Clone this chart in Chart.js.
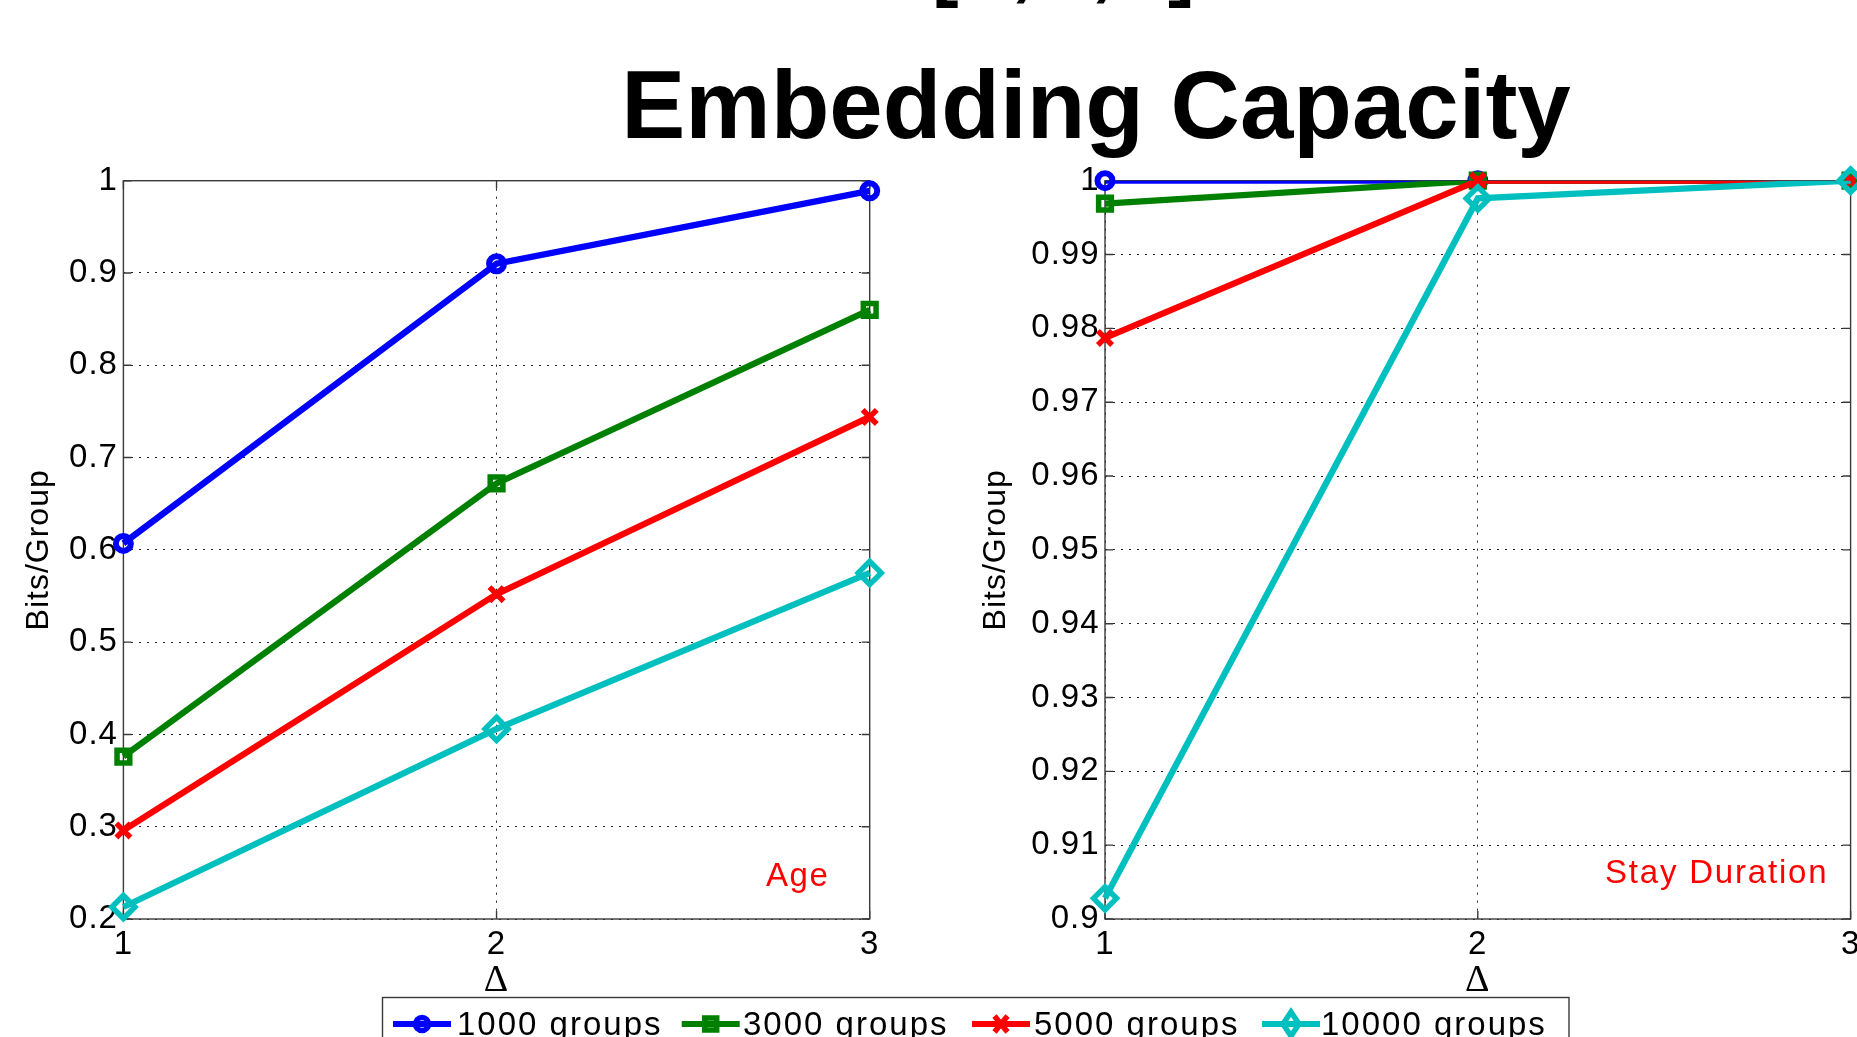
<!DOCTYPE html>
<html>
<head>
<meta charset="utf-8">
<script src="https://cdn.jsdelivr.net/npm/chart.js@4.4.1/dist/chart.umd.min.js"></script>
<style>
  html, body { margin:0; padding:0; width:1857px; height:1037px; overflow:hidden; background:#fff; }
  .cv { position:absolute; }
  #overlay { position:absolute; left:0; top:0; pointer-events:none; }
</style>
</head>
<body>
<div class="cv" style="left:0px; top:150px; width:900px; height:887px;"><canvas id="ageChart"></canvas></div>
<div class="cv" style="left:930px; top:150px; width:950px; height:887px;"><canvas id="stayChart"></canvas></div>

<svg id="overlay" width="1857" height="1037" xmlns="http://www.w3.org/2000/svg">
  <g font-family="'Liberation Sans', Arial, sans-serif" font-weight="bold" font-size="80" fill="#000">
    <text x="932" y="-9">[</text>
    <text x="1011" y="-9">,</text>
    <text x="1091" y="-9">,</text>
    <text x="1168" y="-9">]</text>
  </g>
  <text x="1096" y="137.5" text-anchor="middle" font-family="'Liberation Sans', Arial, sans-serif" font-weight="bold" font-size="96" fill="#000">Embedding Capacity</text>
  <text id="ageLbl" x="766" y="885.5" font-family="'Liberation Sans', Arial, sans-serif" font-size="33" letter-spacing="1.6" fill="#ff0000"></text>
  <text id="stayLbl" x="1605" y="883" font-family="'Liberation Sans', Arial, sans-serif" font-size="33" letter-spacing="1.8" fill="#ff0000"></text>
  <g id="legend"></g>
</svg>

<script>
// ---------------- data ----------------
const deltaLabels = ['1', '2', '3'];
const seriesNames = ['1000 groups', '3000 groups', '5000 groups', '10000 groups'];

const ageG1000  = [0.607, 0.910, 0.989];
const ageG3000  = [0.376, 0.672, 0.860];
const ageG5000  = [0.296, 0.552, 0.744];
const ageG10000 = [0.213, 0.406, 0.575];

const stayG1000  = [1.0000, 1.0000, 1.0000];
const stayG3000  = [0.9969, 1.0000, 1.0000];
const stayG5000  = [0.9787, 1.0000, 1.0000];
const stayG10000 = [0.9028, 0.9976, 1.0000];

const ageYTicks  = [0.2, 0.3, 0.4, 0.5, 0.6, 0.7, 0.8, 0.9, 1];
const stayYTicks = [0.9, 0.91, 0.92, 0.93, 0.94, 0.95, 0.96, 0.97, 0.98, 0.99, 1];

const ageText = 'Age';
const stayText = 'Stay Duration';
const yTitle = 'Bits/Group';
const xTitle = 'Δ';

document.getElementById('ageLbl').textContent = ageText;
document.getElementById('stayLbl').textContent = stayText;

// ---------------- styles ----------------
const colors = ['#0000ff', '#008000', '#ff0000', '#00bfbf'];
const markers = [
  { style: 'circle',   radius: 7.5, border: 6 },
  { style: 'rect',     radius: 9.0, border: 5.5 },
  { style: 'crossRot', radius: 10.0, border: 5.5 },
  { style: 'rectRot',  radius: 11.5, border: 5.5 }
];
const SANS = "'Liberation Sans', Arial, sans-serif";
const SERIF = "'Liberation Serif', 'Times New Roman', serif";

function buildDatasets(seriesArr) {
  const ds = [];
  seriesArr.forEach((vals, s) => {
    ds.push({
      label: seriesNames[s],
      data: vals,
      borderColor: colors[s],
      backgroundColor: colors[s],
      borderWidth: 6.3,
      pointRadius: 0,
      tension: 0,
      fill: false,
      clip: { left: 12, right: 12, top: 0, bottom: 0 },
      order: (3 - s) * 2 + 1
    });
    ds.push({
      label: seriesNames[s] + ' markers',
      data: vals,
      showLine: false,
      borderColor: colors[s],
      backgroundColor: 'rgba(0,0,0,0)',
      pointStyle: markers[s].style,
      pointRadius: markers[s].radius,
      pointBorderWidth: markers[s].border,
      pointHoverRadius: markers[s].radius,
      clip: false,
      order: (3 - s) * 2
    });
  });
  return ds;
}

const frameAndSpacing = {
  id: 'frameAndSpacing',
  beforeDraw(chart) {
    chart.ctx.letterSpacing = '1px';
  },
  beforeDatasetsDraw(chart) {
    const { ctx, chartArea: { left, top, right, bottom }, scales: { x, y } } = chart;
    ctx.save();
    ctx.setLineDash([]);
    ctx.strokeStyle = '#3a3a3a';
    ctx.lineWidth = 1.4;
    ctx.strokeRect(left, top, right - left, bottom - top);
    const L = 8;
    ctx.beginPath();
    y.ticks.forEach(t => {
      const p = y.getPixelForValue(t.value);
      ctx.moveTo(left, p); ctx.lineTo(left + L, p);
      ctx.moveTo(right, p); ctx.lineTo(right - L, p);
    });
    x.ticks.forEach((t, i) => {
      const p = x.getPixelForTick(i);
      ctx.moveTo(p, bottom); ctx.lineTo(p, bottom - L);
      ctx.moveTo(p, top); ctx.lineTo(p, top + L);
    });
    ctx.stroke();
    ctx.restore();
  }
};

function makeChart(id, seriesArr, yMin, yMax, yTickVals, yScaleWidth, yTitlePad, padRight) {
  return new Chart(document.getElementById(id), {
    type: 'line',
    data: { labels: deltaLabels, datasets: buildDatasets(seriesArr) },
    options: {
      responsive: true,
      maintainAspectRatio: false,
      animation: false,
      events: [],
      layout: { padding: { left: 0, right: padRight, top: 30.7, bottom: 0 } },
      plugins: { legend: { display: false }, tooltip: { enabled: false }, title: { display: false } },
      scales: {
        x: {
          type: 'category',
          offset: false,
          grid: { display: true, color: '#222', lineWidth: 1, drawTicks: false },
          border: { display: false, dash: [2, 6] },
          ticks: { color: '#000', font: { family: SANS, size: 33 }, padding: 6, maxRotation: 0, autoSkip: false },
          title: { display: true, text: xTitle, color: '#000', font: { family: SERIF, size: 38 }, padding: { top: 0, bottom: 33 } },
          afterFit(scale) { scale.height = 118; }
        },
        y: {
          type: 'linear',
          min: yMin, max: yMax,
          afterBuildTicks(scale) { scale.ticks = yTickVals.map(v => ({ value: v })); },
          grid: { display: true, color: '#222', lineWidth: 1, drawTicks: false },
          border: { display: false, dash: [2, 6] },
          ticks: { color: '#000', font: { family: SANS, size: 33 }, padding: 5.5, callback: v => String(v) },
          title: { display: true, text: yTitle, color: '#000', font: { family: SANS, size: 32 }, padding: { top: yTitlePad, bottom: 0 } },
          afterFit(scale) { scale.width = yScaleWidth; }
        }
      }
    },
    plugins: [frameAndSpacing]
  });
}

makeChart('ageChart', [ageG1000, ageG3000, ageG5000, ageG10000], 0.2, 1, ageYTicks, 123.4, 20.4, 30.3);
makeChart('stayChart', [stayG1000, stayG3000, stayG5000, stayG10000], 0.9, 1, stayYTicks, 175, 47, 29.4);

// ---------------- legend (SVG, real text) ----------------
(function buildLegend() {
  const NS = 'http://www.w3.org/2000/svg';
  const g = document.getElementById('legend');
  const box = document.createElementNS(NS, 'rect');
  box.setAttribute('x', 382.5); box.setAttribute('y', 997.5);
  box.setAttribute('width', 1186.5); box.setAttribute('height', 80);
  box.setAttribute('fill', '#fff'); box.setAttribute('stroke', '#3a3a3a'); box.setAttribute('stroke-width', 1.4);
  g.appendChild(box);
  const lineStarts = [393, 681.7, 972, 1262];
  const textStarts = [457, 743, 1034, 1321];
  const ly = 1024;
  seriesNames.forEach((name, s) => {
    const x0 = lineStarts[s], x1 = x0 + 58, cx = (x0 + x1) / 2;
    const ln = document.createElementNS(NS, 'line');
    ln.setAttribute('x1', x0); ln.setAttribute('x2', x1); ln.setAttribute('y1', ly); ln.setAttribute('y2', ly);
    ln.setAttribute('stroke', colors[s]); ln.setAttribute('stroke-width', 6);
    g.appendChild(ln);
    let m;
    if (s === 0) {
      m = document.createElementNS(NS, 'circle');
      m.setAttribute('cx', cx); m.setAttribute('cy', ly); m.setAttribute('r', 6.5);
    } else if (s === 1) {
      m = document.createElementNS(NS, 'rect');
      m.setAttribute('x', cx - 6); m.setAttribute('y', ly - 6); m.setAttribute('width', 12); m.setAttribute('height', 12);
    } else if (s === 2) {
      m = document.createElementNS(NS, 'path');
      m.setAttribute('d', `M${cx-6.5},${ly-8} L${cx+6.5},${ly+8} M${cx+6.5},${ly-8} L${cx-6.5},${ly+8}`);
    } else {
      m = document.createElementNS(NS, 'path');
      m.setAttribute('d', `M${cx},${ly-12} L${cx+8},${ly} L${cx},${ly+12} L${cx-8},${ly} Z`);
    }
    m.setAttribute('fill', 'none'); m.setAttribute('stroke', colors[s]); m.setAttribute('stroke-width', 5.5);
    g.appendChild(m);
    const t = document.createElementNS(NS, 'text');
    t.setAttribute('x', textStarts[s]); t.setAttribute('y', 1035);
    t.setAttribute('font-family', SANS); t.setAttribute('font-size', 33);
    t.setAttribute('letter-spacing', 2); t.setAttribute('fill', '#000');
    t.textContent = name;
    g.appendChild(t);
  });
})();
</script>
</body>
</html>
